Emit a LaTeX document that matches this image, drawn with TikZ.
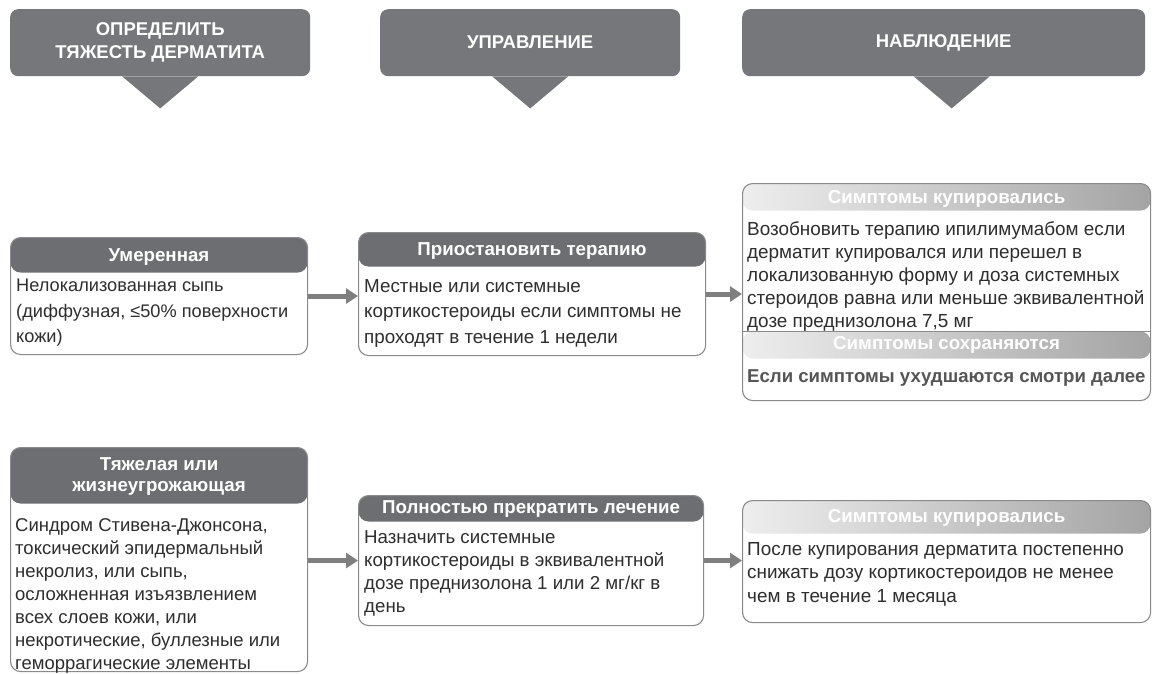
\documentclass[tikz,border=0pt]{standalone}
\usepackage{fontspec}
\setmainfont{Liberation Sans}
\usetikzlibrary{arrows.meta}
\definecolor{bannergray}{HTML}{76777B}
\definecolor{hdrgray}{HTML}{6D6E71}
\definecolor{linegray}{HTML}{8A8A8A}
\definecolor{txt}{HTML}{2E2E2E}
\definecolor{arrgray}{HTML}{7F7F7F}
\definecolor{gradl}{HTML}{EEEEEE}
\definecolor{gradm}{HTML}{8C8C8C}
\definecolor{gradr}{HTML}{A4A4A4}
\definecolor{boldtxt}{HTML}{555555}
\begin{document}
\begin{tikzpicture}[x=1pt,y=-1pt,
  banner/.style={fill=bannergray, rounded corners=8pt, anchor=north west, inner sep=0pt,
    text=white, font=\bfseries\fontsize{18.5}{23}\selectfont, align=center},
  box/.style={draw=linegray, line width=1.1pt, fill=white, rounded corners=10pt, anchor=north west, inner sep=0pt},
  hdrbox/.style={box, path picture={\fill[hdrgray] (path picture bounding box.north west) rectangle ([yshift=-#1]path picture bounding box.north east);}},
  hdrtext/.style={text=white, font=\bfseries\fontsize{18.7}{21}\selectfont, align=center, inner sep=0pt},
  body/.style={text=txt, align=left, anchor=north west, inner sep=0pt},
  arr/.style={draw=arrgray, line width=5pt, -{Triangle[length=12pt,width=15pt]}},
  tri/.style={fill=bannergray}
]
\useasboundingbox (0,0) rectangle (1154,674);

% banners
\node[banner, minimum width=300pt, minimum height=67pt] (b1) at (10,9) {ОПРЕДЕЛИТЬ\\ТЯЖЕСТЬ ДЕРМАТИТА};
\node[banner, minimum width=300pt, minimum height=67pt] (b2) at (380,9) {УПРАВЛЕНИЕ};
\node[banner, minimum width=403pt, minimum height=67pt] (b3) at (742,9) {НАБЛЮДЕНИЕ};
\fill[tri] ([xshift=-38pt]b1.south) -- ([xshift=38pt]b1.south) -- ([yshift=-32pt]b1.south) -- cycle;
\fill[tri] ([xshift=-38pt]b2.south) -- ([xshift=38pt]b2.south) -- ([yshift=-32pt]b2.south) -- cycle;
\fill[tri] ([xshift=-30pt]b3.south) -- ([xshift=46pt]b3.south) -- ([xshift=8pt,yshift=-32pt]b3.south) -- cycle;

% row 1
\node[hdrbox=35pt, minimum width=297pt, minimum height=117pt] (mod) at (10,237) {};
\node[hdrtext] (modh) at ([yshift=-20pt]mod.north) {Умеренная};
\node[body, font=\fontsize{18.2}{25.5}\selectfont] (modt) at (16,279) {Нелокализованная сыпь\\(диффузная, ≤50\% поверхности\\кожи)};

\node[hdrbox=34pt, minimum width=347pt, minimum height=123pt] (pri) at (358,232) {};
\node[hdrtext] (prih) at ([yshift=-19pt]pri.north) {Приостановить терапию};
\node[body, font=\fontsize{18.8}{25.5}\selectfont] (prit) at (364,279) {Местные или системные\\кортикостероиды если симптомы не\\проходят в течение 1 недели};

\node[box, minimum width=408pt, minimum height=217pt,
  path picture={
    \shade[left color=gradl, middle color=gradm, right color=gradr]
      (path picture bounding box.north west) rectangle ([yshift=-27pt]path picture bounding box.north east);
    \shade[left color=gradl, middle color=gradm, right color=gradr]
      ([yshift=-148pt]path picture bounding box.north west) rectangle ([yshift=-175pt]path picture bounding box.north east);
    \draw[linegray, line width=1pt] ([yshift=-148pt]path picture bounding box.north west) -- ([yshift=-148pt]path picture bounding box.north east);
  }] (obs1) at (742,183) {};
\node[hdrtext] (obs1h) at ([yshift=-16pt]obs1.north) {Симптомы купировались};
\node[body, font=\fontsize{18.9}{23}\selectfont] (obs1t) at (747,221) {Возобновить терапию ипилимумабом если\\дерматит купировался или перешел в\\локализованную форму и доза системных\\стероидов равна или меньше эквивалентной\\дозе преднизолона 7,5 мг};
\node[hdrtext] (obs1h2) at ([yshift=-162pt]obs1.north) {Симптомы сохраняются};
\node[body, text=boldtxt, font=\bfseries\fontsize{18.6}{23}\selectfont] (obs1t2) at (747,370) {Если симптомы ухудшаются смотри далее};

\draw[arr] (mod.east) -- (mod.east -| pri.west);
\draw[arr] (pri.east) -- (pri.east -| obs1.west);

% row 2
\node[hdrbox=56pt, minimum width=297pt, minimum height=224pt] (sev) at (10,447) {};
\node[hdrtext] (sevh) at ([yshift=-30pt]sev.north) {Тяжелая или\\жизнеугрожающая};
\node[body, font=\fontsize{18.5}{23}\selectfont] (sevt) at (15,518) {Синдром Стивена-Джонсона,\\токсический эпидермальный\\некролиз, или сыпь,\\осложненная изъязвлением\\всех слоев кожи, или\\некротические, буллезные или\\геморрагические элементы};

\node[hdrbox=26pt, minimum width=345pt, minimum height=130pt] (pol) at (358,495) {};
\node[hdrtext] (polh) at ([yshift=-14pt]pol.north) {Полностью прекратить лечение};
\node[body, font=\fontsize{18.7}{23.3}\selectfont] (polt) at (364,530) {Назначить системные\\кортикостероиды в эквивалентной\\дозе преднизолона 1 или 2 мг/кг в\\день};

\node[box, minimum width=408pt, minimum height=122pt,
  path picture={
    \shade[left color=gradl, middle color=gradm, right color=gradr]
      (path picture bounding box.north west) rectangle ([yshift=-33pt]path picture bounding box.north east);
  }] (obs2) at (742,500) {};
\node[hdrtext] (obs2h) at ([yshift=-18pt]obs2.north) {Симптомы купировались};
\node[body, font=\fontsize{18.9}{23.5}\selectfont] (obs2t) at (747,542) {После купирования дерматита постепенно\\снижать дозу кортикостероидов не менее\\чем в течение 1 месяца};

\draw[arr] (sev.east |- pol.west) -- (pol.west);
\draw[arr] (pol.east) -- (pol.east -| obs2.west);
\end{tikzpicture}
\end{document}
